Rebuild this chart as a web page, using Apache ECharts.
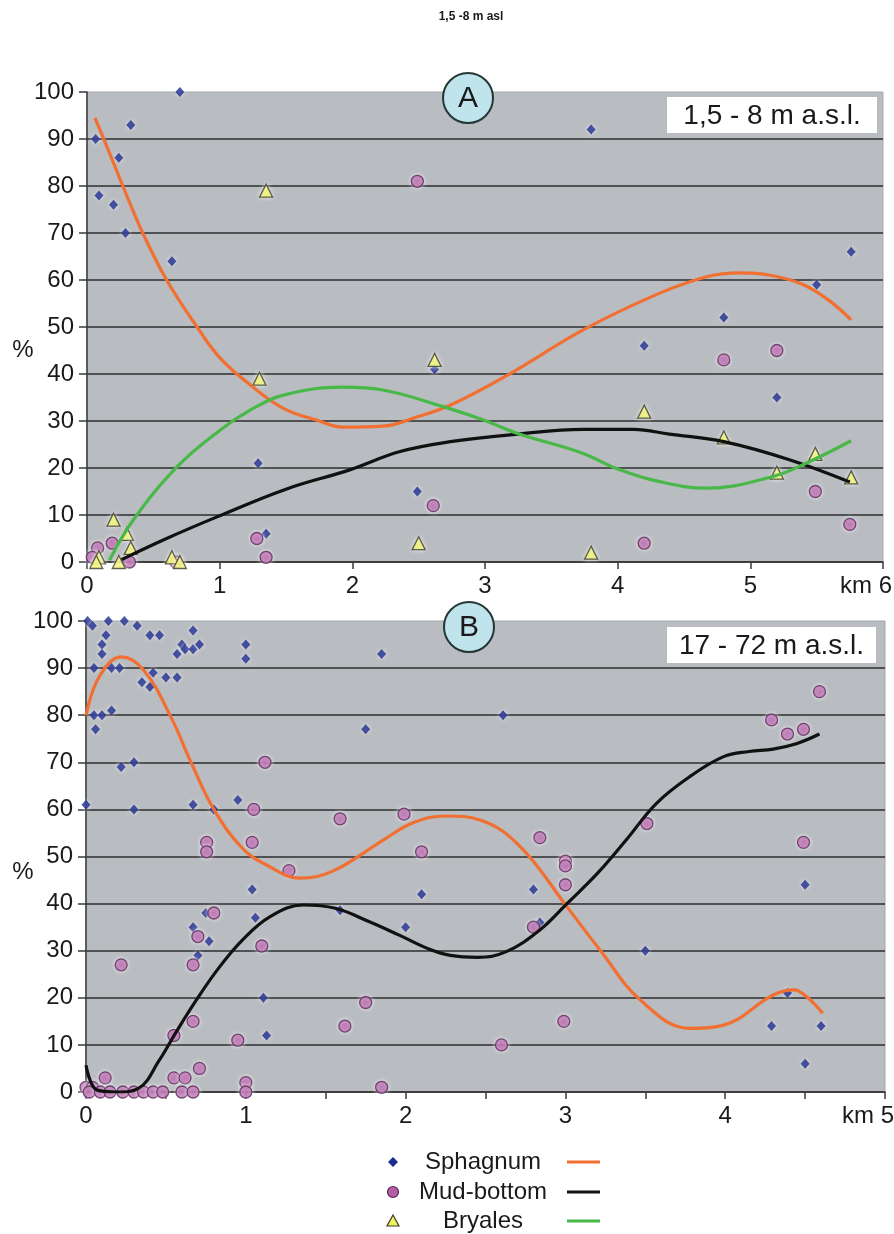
<!DOCTYPE html>
<html>
<head>
<meta charset="utf-8">
<script src="https://cdn.jsdelivr.net/npm/echarts@6/dist/echarts.min.js"></script>
<style>
  html, body { margin: 0; padding: 0; background: #ffffff; }
  #chart { width: 894px; height: 1234px; }
</style>
</head>
<body>
<div id="chart"></div>
<script>
// ---- Panel A: 1,5 - 8 m a.s.l. (distance km, cover %) ----
const sphagnumA = [[0.065,90],[0.70,100],[0.33,93],[0.24,86],[0.09,78],[0.20,76],[0.29,70],[0.64,64],
  [3.80,92],[5.76,66],[5.50,59],[4.80,52],[4.20,46],[5.20,35],[1.29,21],[1.35,6],[2.49,15],[2.62,41]];
const mudA = [[2.49,81],[4.80,43],[5.20,45],[5.49,15],[5.75,8],[4.20,4],[2.61,12],[1.28,5],[1.35,1],
  [0.08,3],[0.19,4],[0.04,1],[0.32,0],[0.67,0]];
const bryalesA = [[1.35,79],[1.30,39],[2.62,43],[2.50,4],[0.20,9],[0.30,6],[0.33,3],[0.09,1],[0.07,0],
  [0.24,0],[0.64,1],[0.70,0],[4.20,32],[4.80,26.5],[5.20,19],[5.49,23],[5.76,18],[3.80,2]];
const sphagnumTrendA = [[0.06,94.5],[0.17,87],[0.27,80],[0.42,70],[0.6,60],[0.83,50],[1.0,43.5],[1.23,37.7],
  [1.48,32.7],[1.73,30.2],[1.93,28.7],[2.23,28.9],[2.48,30.8],[2.74,33.4],[3.19,40.1],[3.74,49.4],[4.3,57],
  [4.67,60.7],[4.92,61.5],[5.15,61],[5.4,59],[5.6,55.5],[5.76,51.5]];
const mudTrendA = [[0.26,0.5],[0.6,5],[0.98,9.6],[1.5,15.5],[1.98,19.6],[2.36,23.5],[2.74,25.6],[3.24,27.2],
  [3.74,28.2],[4.12,28.2],[4.39,27.2],[4.8,25.6],[5.3,21.7],[5.75,17]];
const bryalesTrendA = [[0.17,0.4],[0.35,9],[0.68,20.3],[1.0,28],[1.23,32.3],[1.48,35.5],[1.93,37.2],[2.23,36.6],
  [2.69,33],[2.99,30.2],[3.24,27.4],[3.74,23.1],[3.99,19.9],[4.3,17.2],[4.67,15.7],[5.17,18.2],[5.42,21],[5.76,25.8]];

// ---- Panel B: 17 - 72 m a.s.l. ----
const sphagnumB = [[0.01,100],[0.04,99],[0.14,100],[0.24,100],[0.32,99],[0.40,97],[0.46,97],[0.125,97],
  [0.10,95],[0.10,93],[0.05,90],[0.16,90],[0.21,90],[0.42,89],[0.35,87],[0.40,86],[0.50,88],[0.57,88],
  [0.57,93],[0.60,95],[0.62,94],[0.67,94],[0.71,95],[0.67,98],[1.00,95],[1.00,92],[0.05,80],[0.10,80],
  [0.16,81],[0.06,77],[0.22,69],[0.30,70],[0.0,61],[0.30,60],[0.67,61],[0.80,60],[0.95,62],[1.75,77],
  [1.85,93],[2.61,80],[1.04,43],[1.06,37],[1.11,20],[1.13,12],[0.67,35],[0.77,32],[0.70,29],[0.75,38],
  [1.59,38.6],[2.0,35],[2.10,42],[2.80,43],[2.84,36],[3.50,30],[4.39,21],[4.29,14],[4.60,14],[4.50,6],[4.50,44]];
const mudB = [[1.12,70],[1.05,60],[1.59,58],[1.99,59],[0.755,53],[0.755,51],[1.04,53],[1.27,47],[2.10,51],
  [0.80,38],[0.70,33],[0.67,27],[0.22,27],[1.10,31],[0.67,15],[0.55,12],[1.75,19],[1.62,14],[0.95,11],
  [0.71,5],[0.55,3],[0.62,3],[1.0,2],[1.0,0],[1.85,1],[0.12,3],[0.0,1],[0.04,1],[0.02,0],[0.09,0],[0.15,0],
  [0.23,0],[0.30,0],[0.36,0],[0.42,0],[0.48,0],[0.60,0],[0.67,0],[3.0,49],[3.0,48],[3.0,44],[2.80,35],
  [2.99,15],[2.60,10],[2.84,54],[4.49,53],[4.59,85],[4.29,79],[4.39,76],[4.49,77],[3.51,57]];
const sphagnumTrendB = [[0.0,80],[0.08,88],[0.22,92.4],[0.36,89.6],[0.53,79.7],[0.66,69.8],[0.80,60],
  [0.98,51.7],[1.13,48.2],[1.34,45.4],[1.55,47],[1.86,53.5],[2.05,57.2],[2.25,58.6],[2.47,57.7],[2.72,52],
  [3.01,39.3],[3.22,30],[3.47,19.5],[3.78,13.5],[3.99,14.2],[4.30,20.6],[4.43,21.7],[4.51,20.2],[4.61,16.7]];
const mudTrendB = [[0.0,5.7],[0.07,0.4],[0.2,0],[0.33,0.8],[0.46,6.8],[0.56,12.5],[0.69,19.5],[0.83,26.3],
  [0.98,32.3],[1.15,37.2],[1.36,39.7],[1.56,39],[1.77,36.2],[1.96,33.3],[2.15,30.3],[2.28,29],[2.45,28.6],
  [2.63,29.8],[2.84,34.4],[3.01,40],[3.20,46.4],[3.38,53.5],[3.57,61.3],[3.78,67],[3.99,71.2],[4.15,72.3],
  [4.30,72.8],[4.45,74],[4.59,76]];

// axis ranges and labels
const xMaxA = 6, xMaxB = 5;
const xUnit = 'km';
const yTicks = { min: 0, max: 100, step: 10 };
const panelLetters = ['A', 'B'];
const panelRanges = ['1,5 - 8 m a.s.l.', '17 - 72 m a.s.l.'];
const legendNames = ['Sphagnum', 'Mud-bottom', 'Bryales'];
const heading = '1,5 -8 m asl';

const FONT = '"Liberation Sans", Arial, sans-serif';
const COL = {
  sph: '#1d2b8e', mud: '#b25ea6', mudEdge: '#5a275a', bry: '#eef35c', bryEdge: '#3a3a2a',
  sphLine: '#f26f32', mudLine: '#111111', bryLine: '#48b848',
  plot: '#b9bcc0', grid: '#2e2e2e'
};

function xLabel(max) {
  return function (v) {
    if (Math.abs(v - Math.round(v)) > 1e-6) return '';
    if (Math.round(v) === max) return '{k|' + xUnit + ' }' + max + '{s|}';
    return String(Math.round(v));
  };
}

function xAxis(gi, max, step) {
  return {
    gridIndex: gi, type: 'value', min: 0, max: max, interval: step,
    axisLine: { show: true, onZero: false, lineStyle: { color: '#3a3a3a', width: 1.5 } },
    axisTick: { show: true, length: 7, lineStyle: { color: '#3a3a3a', width: 1.5 } },
    splitLine: { show: false },
    axisLabel: {
      formatter: xLabel(max), fontSize: 24, fontFamily: FONT, color: '#1a1a1a', margin: 12,
      rich: { k: { fontSize: 24, fontFamily: FONT, color: '#1a1a1a' }, s: { width: 34 } }
    }
  };
}

function yAxis(gi) {
  return {
    gridIndex: gi, type: 'value', min: yTicks.min, max: yTicks.max, interval: yTicks.step,
    axisLine: { show: true, lineStyle: { color: '#3a3a3a', width: 1.5 } },
    axisTick: { show: true, length: 8, lineStyle: { color: '#3a3a3a', width: 1.5 } },
    splitLine: { show: true, showMaxLine: false, lineStyle: { color: COL.grid, width: 1.6 } },
    axisLabel: { fontSize: 24, fontFamily: FONT, color: '#1a1a1a', margin: 13 }
  };
}

function pts(name, data, idx, symbol, size, color, edge) {
  return {
    name: name, type: 'scatter', xAxisIndex: idx, yAxisIndex: idx, data: data,
    symbol: symbol, symbolSize: size, z: 3,
    itemStyle: { color: color, borderColor: edge || color, borderWidth: edge ? 1.3 : 0,
      shadowBlur: 4, shadowColor: 'rgba(255,255,255,0.85)' }
  };
}

function trend(name, data, idx, color) {
  return {
    name: name, type: 'line', xAxisIndex: idx, yAxisIndex: idx, data: data,
    smooth: 0.4, showSymbol: false, z: 4, clip: true,
    lineStyle: { color: color, width: 3.2 }
  };
}

const chart = echarts.init(document.getElementById('chart'), null, { renderer: 'canvas' });

// legend rows: marker, centred name, trend line sample
const legendRows = [1162, 1192, 1221];
const legendGraphics = [];
legendRows.forEach(function (y, i) {
  if (i === 0) legendGraphics.push({ type: 'polygon', shape: { points: [[393, y - 5], [398, y], [393, y + 5], [388, y]] }, style: { fill: COL.sph } });
  if (i === 1) legendGraphics.push({ type: 'circle', shape: { cx: 393, cy: y, r: 5.5 }, style: { fill: COL.mud, stroke: COL.mudEdge, lineWidth: 1.2 } });
  if (i === 2) legendGraphics.push({ type: 'polygon', shape: { points: [[393, y - 6], [399, y + 5], [387, y + 5]] }, style: { fill: COL.bry, stroke: COL.bryEdge, lineWidth: 1.2 } });
  legendGraphics.push({ type: 'text', x: 483, y: y, style: { text: legendNames[i], fontSize: 24, fontFamily: FONT, fill: '#1a1a1a', align: 'center', verticalAlign: 'middle' } });
  legendGraphics.push({ type: 'line', shape: { x1: 567, y1: y, x2: 600, y2: y }, style: { stroke: [COL.sphLine, COL.mudLine, COL.bryLine][i], lineWidth: 3.2 } });
});

function panelBadge(cx, cy, letter) {
  return [
    { type: 'circle', shape: { cx: cx, cy: cy, r: 25 }, z: 10, style: { fill: '#bfe4ec', stroke: '#243636', lineWidth: 2 } },
    { type: 'text', x: cx, y: cy + 1, z: 11, style: { text: letter, fontSize: 30, fontFamily: FONT, fill: '#1a1a1a', align: 'center', verticalAlign: 'middle' } }
  ];
}

function rangeBox(x, y, w, h, text) {
  return [
    { type: 'rect', shape: { x: x, y: y, width: w, height: h }, z: 10, style: { fill: '#ffffff' } },
    { type: 'text', x: x + w / 2, y: y + h / 2 + 1, z: 11, style: { text: text, fontSize: 28, fontFamily: FONT, fill: '#1a1a1a', align: 'center', verticalAlign: 'middle' } }
  ];
}

const option = {
  backgroundColor: '#ffffff',
  animation: false,
  grid: [
    { left: 87, top: 92, width: 796, height: 470, outerBoundsMode: 'none', containLabel: false,
      show: true, backgroundColor: COL.plot, borderColor: '#a4a8ac', borderWidth: 1 },
    { left: 86, top: 621, width: 799, height: 471, outerBoundsMode: 'none', containLabel: false,
      show: true, backgroundColor: COL.plot, borderColor: '#a4a8ac', borderWidth: 1 }
  ],
  xAxis: [xAxis(0, xMaxA, 1), xAxis(1, xMaxB, 0.5)],
  yAxis: [yAxis(0), yAxis(1)],
  series: [
    pts(legendNames[0], sphagnumA, 0, 'diamond', [9, 10], COL.sph),
    pts(legendNames[1], mudA, 0, 'circle', 12, COL.mud, COL.mudEdge),
    pts(legendNames[2], bryalesA, 0, 'triangle', 13, COL.bry, COL.bryEdge),
    trend(legendNames[0] + ' trend', sphagnumTrendA, 0, COL.sphLine),
    trend(legendNames[1] + ' trend', mudTrendA, 0, COL.mudLine),
    trend(legendNames[2] + ' trend', bryalesTrendA, 0, COL.bryLine),
    pts(legendNames[0], sphagnumB, 1, 'diamond', [9, 10], COL.sph),
    pts(legendNames[1], mudB, 1, 'circle', 12, COL.mud, COL.mudEdge),
    trend(legendNames[0] + ' trend', sphagnumTrendB, 1, COL.sphLine),
    trend(legendNames[1] + ' trend', mudTrendB, 1, COL.mudLine)
  ],
  graphic: [
    { type: 'text', x: 471, y: 17, style: { text: heading, fontSize: 12, fontWeight: 'bold', fontFamily: '"Liberation Sans Narrow", "Liberation Sans", Arial', fill: '#1a1a1a', align: 'center', verticalAlign: 'middle' } },
    { type: 'text', x: 23, y: 350, style: { text: '%', fontSize: 24, fontFamily: FONT, fill: '#1a1a1a', align: 'center', verticalAlign: 'middle' } },
    { type: 'text', x: 23, y: 872, style: { text: '%', fontSize: 24, fontFamily: FONT, fill: '#1a1a1a', align: 'center', verticalAlign: 'middle' } }
  ]
    .concat(panelBadge(468, 98, panelLetters[0]))
    .concat(panelBadge(469, 627, panelLetters[1]))
    .concat(rangeBox(667, 97, 210, 36, panelRanges[0]))
    .concat(rangeBox(667, 627, 209, 36, panelRanges[1]))
    .concat(legendGraphics)
};

chart.setOption(option);
</script>
</body>
</html>
